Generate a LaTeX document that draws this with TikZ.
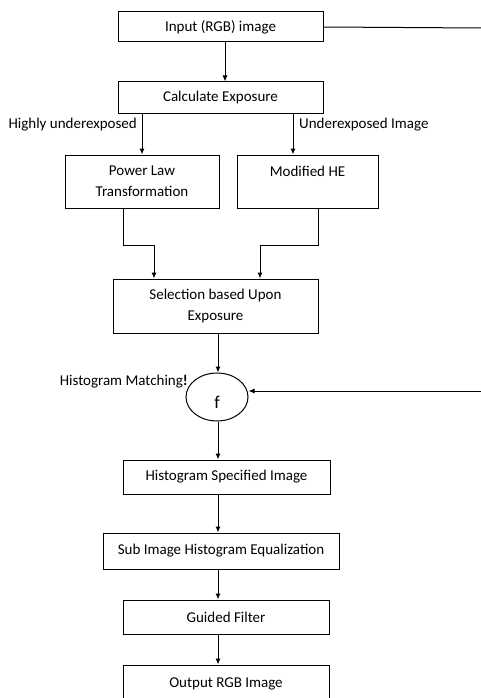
\documentclass[tikz,border=0pt]{standalone}
\usepackage{fontspec}
\setmainfont{Carlito}
\usetikzlibrary{shapes.geometric,arrows.meta}
\begin{document}
\begin{tikzpicture}[x=1pt,y=-1pt,
  box/.style={draw,line width=1pt,rectangle,inner sep=0pt,align=center,font=\fontsize{15}{21}\selectfont},
  lbl/.style={inner sep=0pt,font=\fontsize{15}{17}\selectfont},
  arr/.style={line width=1pt,-{Latex[length=6pt,width=5pt]}},
  ln/.style={line width=1pt}]
\useasboundingbox (0,0) rectangle (480,698);
\fill[white] (0,0) rectangle (480,698);
% boxes
\node[box,minimum width=205pt,minimum height=30pt] (inp) at (220.5,27) {Input (RGB) image};
\node[box,minimum width=205pt,minimum height=32pt] (calc) at (220.5,98) {Calculate Exposure};
\node[box,minimum width=154pt,minimum height=53pt] (pl) at (142,181.5) {Power Law\\Transformation};
\node[box,minimum width=141pt,minimum height=53pt] (mhe) at (307.5,181.5) {Modified HE\\\mbox{}};
\node[box,minimum width=205pt,minimum height=54pt] (sel) at (215.5,306) {Selection based Upon\\Exposure};
\node[draw,line width=1pt,ellipse,minimum width=62pt,minimum height=48pt,inner sep=0pt] (circ) at (217,397) {};
\node[lbl,font=\fontsize{18}{18}\selectfont] (f) at (217,402) {f};
\node[box,minimum width=207pt,minimum height=34pt] (hs) at (226.5,477) {Histogram Specified Image};
\node[box,minimum width=236pt,minimum height=36pt] (sub) at (221,551) {Sub Image Histogram Equalization};
\node[box,minimum width=206pt,minimum height=34pt] (gf) at (226,617) {Guided Filter};
\node[box,minimum width=206pt,minimum height=38pt] (out) at (226,684) {Output RGB Image};
% labels
\node[lbl,anchor=east] (l1) at (137,125) {Highly underexposed};
\node[lbl,anchor=west] (l2) at (299,125) {Underexposed Image};
\node[lbl,anchor=east] (l3) at (188,382) {Histogram Matching\textbf{!}};
% free ends
\coordinate (rin) at (482,28);
\coordinate (rcirc) at (482,391);
% connectors
\draw[ln] (inp.east) -- (rin);
\draw[arr] ([xshift=4.5pt]inp.south) -- ([xshift=4.5pt]inp.south |- calc.north);
\draw[arr] ([xshift=-78.5pt]calc.south) -- (pl.north);
\draw[arr] ([xshift=72.5pt]calc.south) -- ([xshift=72.5pt]calc.south |- mhe.north);
\draw[arr] ([xshift=-19pt]pl.south) -- ++(0,37) -| ([xshift=-61.5pt]sel.north);
\draw[arr] ([xshift=10.5pt]mhe.south) -- ++(0,37) -| ([xshift=44.5pt]sel.north);
\draw[arr] ([xshift=2.5pt]sel.south) -- ([xshift=2.5pt]sel.south |- circ.north);
\draw[arr] (rcirc) -- (rcirc -| circ.east);
\draw[arr] ([xshift=1pt]circ.south) -- ([xshift=1pt]circ.south |- hs.north);
\draw[arr] ([xshift=-8.5pt]hs.south) -- ([xshift=-8.5pt]hs.south |- sub.north);
\draw[arr] ([xshift=-3pt]sub.south) -- ([xshift=-3pt]sub.south |- gf.north);
\draw[arr] ([xshift=-8pt]gf.south) -- ([xshift=-8pt]gf.south |- out.north);
\end{tikzpicture}
\end{document}
